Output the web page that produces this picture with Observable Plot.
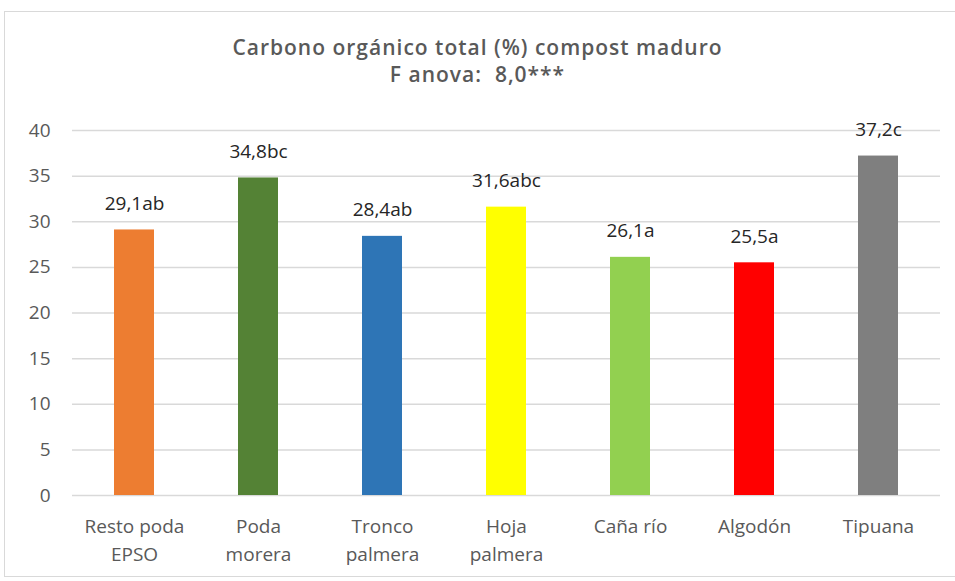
<!DOCTYPE html>
<html><head><meta charset="utf-8">
<script src="https://cdn.jsdelivr.net/npm/d3@7"></script>
<script src="https://cdn.jsdelivr.net/npm/@observablehq/plot@0.6"></script>
<style>
html,body{margin:0;padding:0;background:#fff;}
#wrap{position:relative;width:955px;height:581px;overflow:hidden;font-family:"Open Sans",sans-serif;}
#frame{position:absolute;left:4px;top:11px;width:960px;height:566px;border:1px solid #d9d9d9;box-sizing:border-box;}
.t{position:absolute;left:0;width:955px;text-align:center;color:#595959;font-weight:600;font-size:21px;line-height:24px;letter-spacing:1px;}
#chart{position:absolute;left:0;top:0;}
</style></head>
<body><div id="wrap"><div id="frame"></div>
<div class="t" style="top:35px">Carbono orgánico total (%) compost maduro</div>
<div class="t" style="top:62px">F anova: &nbsp;8,0***</div>
<div id="chart"></div></div>
<script>
const categories = ["Resto poda\nEPSO","Poda\nmorera","Tronco\npalmera","Hoja\npalmera","Caña río","Algodón","Tipuana"];
const values = [29.1, 34.8, 28.4, 31.6, 26.1, 25.5, 37.2];
const labels = ["29,1ab","34,8bc","28,4ab","31,6abc","26,1a","25,5a","37,2c"];
const colors = ["#ED7D31","#548235","#2E75B6","#FFFF00","#92D050","#FF0000","#7F7F7F"];
const yTicks = [0,5,10,15,20,25,30,35,40];
const data = categories.map((c,i)=>({c, v: values[i], l: labels[i], col: colors[i]}));
const chart = Plot.plot({
  width: 955, height: 581,
  marginTop: 130, marginBottom: 86, marginLeft: 72, marginRight: 15,
  style: {fontFamily: "'Open Sans', sans-serif", background: "transparent"},
  x: {domain: categories, paddingInner: 0.68, paddingOuter: 0.34, label: null},
  y: {domain: [0,40], label: null},
  marks: [
    Plot.gridY(yTicks, {stroke: "#d9d9d9", strokeOpacity: 1, strokeWidth: 1.5}),
    Plot.barY(data, {x: "c", y: "v", fill: "col"}),
    Plot.text(data, {x: "c", y: "v", text: "l", lineAnchor: "bottom", dy: -20, fontSize: 19, fill: "#262626"}),
    Plot.axisY(yTicks, {tickSize: 0, tickPadding: 22, fontSize: 19, color: "#595959", label: null}),
    Plot.axisX({tickSize: 0, tickPadding: 17, fontSize: 19, color: "#595959", label: null, lineHeight: 1.5})
  ]
});
document.getElementById("chart").appendChild(chart);
</script></body></html>
